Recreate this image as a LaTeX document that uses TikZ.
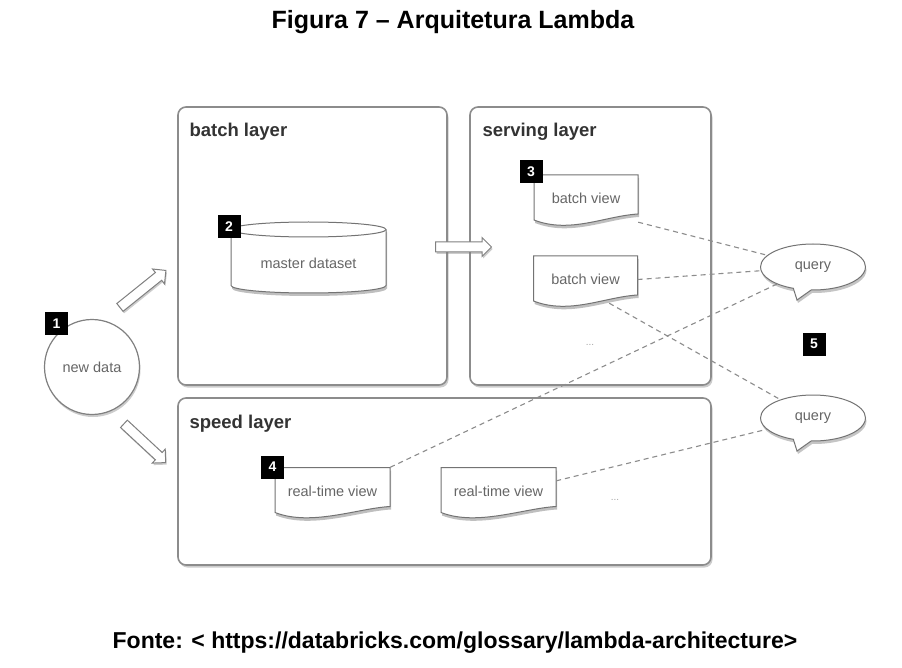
\documentclass[tikz,border=0pt]{standalone}
\usepackage{fontspec}
\setmainfont{Liberation Sans}
\usetikzlibrary{shapes.arrows,shapes.callouts,shadows}

\tikzset{
  layer/.style={draw=black!45,line width=1.6pt,fill=white,rounded corners=8pt,
    drop shadow={opacity=0.4,shadow xshift=1.5pt,shadow yshift=-2.5pt}},
  layername/.style={anchor=base west,color=black!80,font=\fontsize{18.5}{22}\selectfont\bfseries},
  docline/.style={draw=black!55,line width=1pt,fill=white,
    drop shadow={opacity=0.5,shadow xshift=1pt,shadow yshift=-3pt}},
  doc/.style={minimum height=47,inner sep=0pt},
  tag/.style={fill=black,text=white,minimum size=23,inner sep=0pt,
    font=\fontsize{14}{16}\selectfont\bfseries},
  query/.style={ellipse callout,draw=black!55,line width=1pt,fill=white,
    minimum width=105,minimum height=46,inner sep=0pt,callout pointer arc=20,
    drop shadow={opacity=0.45,shadow xshift=1pt,shadow yshift=-3pt}},
  link/.style={draw=black!45,line width=1.1pt,dash pattern=on 5pt off 4pt},
  fatarrow/.style={single arrow,draw=black!50,fill=white,line width=1pt,
    inner xsep=0pt,inner ysep=4.5pt,single arrow head extend=4.5pt,single arrow head indent=0pt,
    drop shadow={opacity=0.4,shadow xshift=1pt,shadow yshift=-2pt}},
  dots/.style={color=black!35,font=\fontsize{10}{12}\selectfont}
}
\tikzstyle{every node}=[color=black!60,font=\fontsize{14.5}{17}\selectfont]

\begin{document}
\begin{tikzpicture}[x=1pt,y=-1pt]
    \fill[white] (0,0) rectangle (902,668);
    \node[color=black,font=\fontsize{25}{30}\selectfont\bfseries] (title) at (453,22) {Figura 7 – Arquitetura Lambda};
    \node[color=black,font=\fontsize{23}{28}\selectfont\bfseries] (source) at (455,643) {Fonte: < https://databricks.com/glossary/lambda-architecture>};

    \node[layer,minimum width=269,minimum height=278] (batch) at (312.5,246) {};
    \node[layer,minimum width=241,minimum height=278] (serving) at (590.5,246) {};
    \node[layer,minimum width=533,minimum height=167] (speed) at (444.5,481.5) {};
    \node[layername] (batchname) at (186,137) {batch layer};
    \node[layername] (servingname) at (479,137) {serving layer};
    \node[layername] (speedname) at (186,428) {speed layer};

    \node[circle,draw=black!50,line width=1.2pt,fill=white,minimum size=95,
      drop shadow={opacity=0.4,shadow xshift=1pt,shadow yshift=-2.5pt}] (nd) at (92,367) {new data};

    \draw[docline] (231,229.5) -- (231,285.5) arc[start angle=180,end angle=0,x radius=77.5,y radius=7.5]
      -- (386,229.5) arc[start angle=0,end angle=-180,x radius=77.5,y radius=7.5];
    \draw[draw=black!55,line width=1pt] (231,229.5) arc[start angle=180,end angle=0,x radius=77.5,y radius=7.5];
    \node (md) at (308.5,263) {master dataset};

    \foreach \n/\x/\y/\w/\t in {bv1/586/198.5/104/batch view,bv2/585.5/279.5/104/batch view,
        rt1/332.5/491/115/real-time view,rt2/498.5/491/115/real-time view} {
      \draw[docline] (\x-\w/2,\y-23.5) -- (\x+\w/2,\y-23.5) -- (\x+\w/2,\y+15.5)
        .. controls (\x+\w/2-33,\y+17.5) and (\x-\w/2+36,\y+35.5) .. (\x-\w/2,\y+21.5) -- cycle;
      \node[doc,minimum width=\w] (\n) at (\x,\y) {\t};
    }
    \node[dots] (servingdots) at (590,345) {...};
    \node[dots] (speeddots) at (615,500) {...};

    \coordinate (q1p) at (797,300);
    \coordinate (q2p) at (797,451);
    \node[query,callout absolute pointer={(q1p)}] (q1) at (813,267) {query};
    \node[query,callout absolute pointer={(q2p)}] (q2) at (813,418) {query};
    \draw[link] (bv1.south east) -- (q1);
    \draw[link] (bv2.east) -- (q1);
    \draw[link] (bv2.-45) -- (q2);
    \draw[link] (rt1.north east) -- (q1);
    \draw[link] (rt2.10) -- (q2);

    \coordinate (a1s) at (118,309);
    \coordinate (a1e) at (164,272);
    \coordinate (a2s) at (122,422);
    \coordinate (a2e) at (164,461);
    \coordinate (a3s) at (433,247);
    \coordinate (a3e) at (489,247);
    \path (a1s) -- node[fatarrow,sloped,minimum height=59] (ar1) {} (a1e);
    \path (a2s) -- node[fatarrow,sloped,minimum height=57] (ar2) {} (a2e);
    \path (a3s) -- node[fatarrow,sloped,minimum height=56] (ar3) {} (a3e);

    \node[tag] (t1) at (56.5,323.5) {1};
    \node[tag] (t2) at (229,227) {2};
    \node[tag] (t3) at (531,172) {3};
    \node[tag] (t4) at (272.5,467) {4};
    \node[tag] (t5) at (814,344) {5};
\end{tikzpicture}
\end{document}
